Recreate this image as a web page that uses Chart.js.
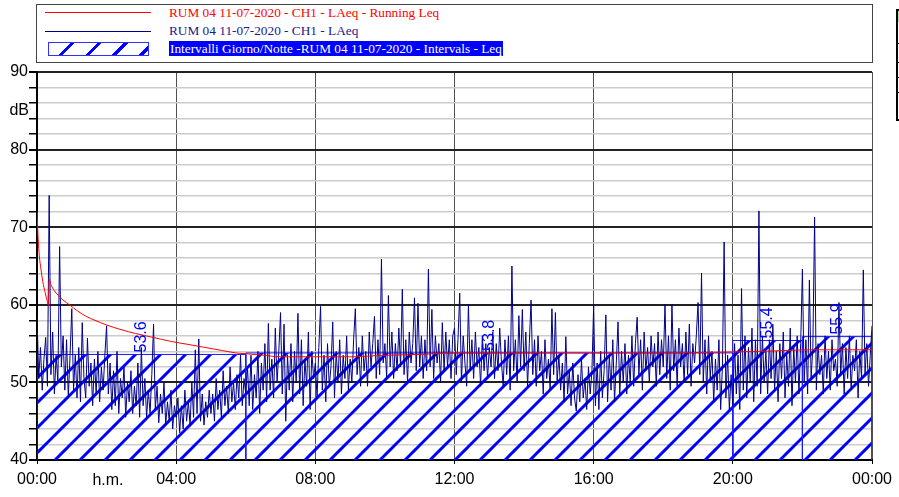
<!DOCTYPE html>
<html>
<head>
<meta charset="utf-8">
<script src="https://cdn.jsdelivr.net/npm/chart.js@4/dist/chart.umd.min.js"></script>
<style>
  body { margin: 0; background: #fff; }
  #wrap { position: relative; width: 899px; height: 497px; overflow: hidden; }
  #chart { position: absolute; left: 0; top: 0; }
  .abs { position: absolute; }
  .lg { position: absolute; font-family: "Liberation Serif", "Times New Roman", serif; font-size: 13.3px; white-space: nowrap; }
</style>
</head>
<body>
<div id="wrap">
  <canvas id="chart" width="899" height="497"></canvas>

  <div class="abs" style="left:36px;top:4px;width:835px;height:57px;border:1px solid #444;background:#fff;"></div>
  <div class="abs" style="left:45px;top:12px;width:106px;height:1px;background:#ff0000;"></div>
  <div class="lg" style="left:169px;top:4px;line-height:17px;color:#ff0000;">RUM 04 11-07-2020 - CH1 - LAeq - Running Leq</div>
  <div class="abs" style="left:45px;top:31px;width:106px;height:1px;background:#000080;"></div>
  <div class="lg" style="left:169px;top:22px;line-height:17px;color:#1a1a8c;">RUM 04 11-07-2020 - CH1 - LAeq</div>
  <div class="abs" style="left:48px;top:42px;width:99px;height:12px;border:1px solid #3030ff;background:repeating-linear-gradient(135deg, transparent 0 15px, #0000ff 15px 18px, transparent 18px 19px);"></div>
  <div class="lg" style="left:169px;top:41px;line-height:15px;height:15px;color:#fff;background:#0000ff;padding:0 1px;">Intervalli Giorno/Notte -RUM 04 11-07-2020 - Intervals - Leq</div>

  <div class="abs" style="left:896px;top:9px;width:10px;height:108px;border:2px solid #000;background:#fff;"></div>
  <div class="abs" style="left:898px;top:11px;width:4px;height:11px;background:#b6e3a0;"></div>
  <div class="abs" style="left:898px;top:43px;width:2px;height:1px;background:#000;"></div>
  <div class="abs" style="left:898px;top:62px;width:2px;height:1px;background:#000;"></div>
  <div class="abs" style="left:898px;top:77px;width:2px;height:1px;background:#000;"></div>
  <div class="abs" style="left:898px;top:92px;width:2px;height:1px;background:#000;"></div>
</div>
<script>
// LAeq, one value every 3 minutes from 00:00 to 24:00 (one row per hour)
const laeqStepMin = 3;
const laeq = [
  58.7, 50.5, 54.5, 49.0, 53.0, 55.8, 49.5, 74.1, 51.0, 56.5, 48.5, 53.5, 50.0, 67.5, 52.0, 56.0, 49.0, 55.5, 48.0, 53.5,
  59.5, 49.0, 53.5, 48.0, 54.5, 47.5, 57.7, 50.5, 48.0, 55.7, 49.5, 52.5, 47.0, 53.0, 48.5, 54.0, 47.5, 52.0, 49.0, 53.5,
  57.3, 48.5, 52.5, 46.5, 51.5, 47.0, 54.0, 46.0, 50.5, 48.0, 52.0, 45.5, 50.0, 47.5, 51.5, 46.0, 49.5, 47.0, 52.5, 45.5,
  54.5, 47.0, 50.5, 45.5, 49.0, 46.0, 51.0, 57.5, 46.5, 49.5, 44.8, 48.5, 46.0, 50.0, 44.5, 47.5, 45.0, 49.0, 44.0, 47.0,
  45.5, 48.0, 43.5, 47.0, 44.0, 49.0, 45.0, 47.5, 44.5, 50.0, 45.5, 54.2, 46.0, 55.6, 45.0, 48.5, 44.5, 47.5, 45.5, 49.0,
  46.0, 48.5, 45.0, 50.5, 46.5, 49.0, 45.5, 51.5, 47.0, 49.5, 46.0, 52.0, 47.5, 50.0, 46.5, 51.0, 48.0, 53.5, 47.0, 50.5,
  48.5, 52.0, 47.0, 53.5, 46.5, 51.0, 48.0, 54.0, 46.0, 52.5, 49.0, 55.0, 47.5, 57.6, 49.0, 53.0, 48.0, 57.0, 50.0, 54.0,
  59.0, 48.5, 57.5, 45.0, 53.5, 49.0, 55.0, 47.5, 54.0, 50.0, 58.9, 48.5, 55.5, 47.0, 53.0, 49.5, 56.5, 46.5, 54.0, 50.5,
  52.5, 48.0, 54.5, 59.8, 49.0, 53.5, 47.5, 55.0, 49.5, 52.0, 57.8, 48.0, 54.0, 50.0, 55.5, 48.5, 53.5, 50.5, 56.0, 49.0,
  53.0, 50.0, 55.5, 59.5, 51.0, 54.5, 49.5, 56.0, 51.5, 54.0, 49.5, 56.5, 52.0, 55.0, 58.5, 50.5, 55.5, 51.0, 65.9, 52.5,
  55.0, 50.5, 61.2, 52.0, 56.5, 50.5, 55.0, 51.5, 57.0, 52.0, 62.0, 51.0, 55.5, 50.0, 56.5, 52.5, 55.0, 60.9, 51.5, 60.2,
  52.0, 56.0, 50.5, 55.5, 51.5, 64.6, 52.0, 59.4, 50.5, 56.0, 52.5, 55.0, 50.0, 57.7, 51.5, 56.5, 52.0, 55.5, 50.5, 56.0,
  57.0, 51.0, 55.5, 61.5, 50.0, 56.0, 52.5, 49.5, 60.1, 51.5, 55.5, 50.5, 56.5, 52.0, 54.5, 49.5, 56.0, 51.5, 55.0, 50.5,
  54.5, 52.0, 56.5, 50.5, 55.0, 51.5, 57.0, 52.5, 49.5, 55.5, 51.0, 56.0, 49.0, 65.0, 51.5, 55.5, 50.0, 58.6, 52.0, 59.4,
  51.5, 56.5, 49.5, 55.0, 60.6, 51.0, 55.5, 49.5, 56.0, 51.5, 54.0, 48.5, 55.5, 50.5, 53.0, 49.0, 59.5, 51.0, 59.0, 50.0,
  53.5, 49.0, 52.5, 47.5, 55.9, 48.5, 51.5, 47.0, 52.5, 48.0, 46.3, 51.0, 47.5, 53.0, 48.0, 50.5, 46.5, 52.0, 48.5, 51.5,
  60.0, 47.0, 52.5, 46.5, 54.0, 48.0, 51.5, 58.7, 47.5, 53.5, 49.0, 55.5, 47.5, 52.5, 57.8, 48.5, 54.0, 50.0, 55.0, 48.5,
  53.5, 50.0, 56.0, 49.5, 55.0, 58.4, 51.0, 55.5, 49.0, 56.5, 51.5, 54.5, 50.0, 56.0, 52.0, 55.0, 49.5, 56.5, 51.0, 55.5,
  52.0, 60.1, 50.5, 56.0, 49.0, 60.1, 51.5, 55.5, 49.5, 57.0, 52.0, 55.0, 50.0, 56.5, 51.0, 57.5, 49.5, 55.0, 52.5, 56.0,
  60.3, 51.0, 64.1, 50.0, 55.5, 48.5, 56.0, 50.5, 54.0, 47.5, 53.0, 49.0, 55.5, 46.5, 52.0, 68.1, 48.0, 53.5, 46.5, 51.0,
  47.0, 55.0, 48.5, 53.5, 46.5, 62.1, 49.0, 56.0, 48.0, 54.5, 50.0, 57.0, 47.5, 55.5, 49.5, 72.1, 48.5, 56.0, 50.0, 54.0,
  48.5, 55.5, 50.5, 57.5, 49.0, 54.0, 47.5, 55.0, 50.5, 56.5, 48.0, 53.5, 49.5, 57.0, 47.0, 54.5, 50.0, 56.0, 48.5, 55.0,
  64.6, 50.0, 55.5, 48.5, 63.2, 50.5, 54.5, 71.3, 49.0, 55.0, 51.0, 53.5, 48.5, 56.0, 50.5, 54.0, 49.0, 55.5, 51.5, 53.0,
  49.5, 60.3, 51.0, 55.0, 48.5, 54.5, 50.5, 56.0, 49.0, 53.5, 51.5, 55.5, 48.0, 54.0, 50.5, 64.5, 51.0, 55.0, 49.5, 53.5,
  57.3
];

// Running Leq read at chosen minutes
const runLeqMin = [0, 2, 4, 7, 10, 14, 18, 20, 21, 24, 30, 38, 45, 56, 70, 85, 100, 120, 145, 170, 200, 230, 260, 290, 320, 343, 360, 390, 420, 480, 540, 600, 660, 720, 840, 960, 1080, 1180, 1246, 1342, 1440];
const runLeqDb = [72.0, 68.5, 66.3, 64.5, 63.0, 61.6, 60.4, 59.9, 63.3, 62.6, 61.8, 61.1, 60.6, 60.0, 59.2, 58.5, 58.0, 57.4, 56.8, 56.3, 55.8, 55.3, 54.9, 54.5, 54.1, 53.8, 53.7, 53.5, 53.3, 53.3, 53.3, 53.5, 53.6, 53.8, 53.8, 53.8, 53.8, 53.9, 54.0, 54.2, 54.2];

// Day / night intervals
const intervalStart = [0, 360, 1200, 1320];
const intervalEnd = [360, 1200, 1320, 1440];
const intervalLeq = [53.6, 53.8, 55.4, 55.9];
const intervalLabel = ["53.6", "53.8", "55.4", "55.9"];

const xTickLabels = ["00:00", "04:00", "08:00", "12:00", "16:00", "20:00", "00:00"];

const SANS = '"Liberation Sans", Arial, sans-serif';

function makeHatch() {
  const c = document.createElement("canvas");
  c.width = 25;
  c.height = 25;
  const g = c.getContext("2d");
  g.strokeStyle = "#0000ff";
  g.lineWidth = 3;
  for (const k of [15, 40]) {
    g.beginPath();
    g.moveTo(k + 10, -10);
    g.lineTo(k - 35, 35);
    g.stroke();
  }
  return g.createPattern(c, "repeat");
}
const hatch = makeHatch();

const intervalSets = intervalStart.map((s, i) => ({
  data: [
    { x: s, y: 40 },
    { x: s, y: intervalLeq[i] },
    { x: intervalEnd[i], y: intervalLeq[i] },
    { x: intervalEnd[i], y: 40 },
  ],
  borderColor: "#1a1aff",
  borderWidth: 1,
  backgroundColor: hatch,
  fill: "start",
  pointRadius: 0,
  tension: 0,
}));

const extraText = {
  id: "extraText",
  afterDraw(chart) {
    const { ctx, scales } = chart;
    ctx.save();
    ctx.fillStyle = "#000";
    ctx.font = "16px " + SANS;
    ctx.textAlign = "right";
    ctx.textBaseline = "middle";
    ctx.fillText("dB", 29, 111);
    ctx.textAlign = "center";
    ctx.fillText("h.m.", 108, 481);

    ctx.fillStyle = "#0000ff";
    ctx.font = "16px " + SANS;
    ctx.textAlign = "left";
    intervalLabel.forEach((t, i) => {
      const x = scales.x.getPixelForValue((intervalStart[i] + intervalEnd[i]) / 2);
      const y = scales.y.getPixelForValue(intervalLeq[i]);
      ctx.save();
      ctx.translate(x, y - 2);
      ctx.rotate(-Math.PI / 2);
      ctx.fillText(t, 0, 0);
      ctx.restore();
    });
    ctx.restore();
  },
};

new Chart(document.getElementById("chart"), {
  type: "line",
  data: {
    datasets: [
      {
        data: runLeqMin.map((m, i) => ({ x: m, y: runLeqDb[i] })),
        borderColor: "#ff0000",
        borderWidth: 1,
        pointRadius: 0,
        cubicInterpolationMode: "monotone",
        fill: false,
      },
      {
        data: laeq.map((v, i) => ({ x: i * laeqStepMin, y: v })),
        borderColor: "#00008b",
        borderWidth: 1,
        pointRadius: 0,
        tension: 0,
        fill: false,
      },
      ...intervalSets,
    ],
  },
  options: {
    responsive: false,
    animation: false,
    devicePixelRatio: 1,
    layout: { padding: { top: 72, right: 27, left: 0, bottom: 0 } },
    plugins: { legend: { display: false }, tooltip: { enabled: false } },
    scales: {
      x: {
        type: "linear",
        min: 0,
        max: 1440,
        afterFit: (s) => { s.height = 37; },
        afterBuildTicks: (s) => {
          s.ticks = xTickLabels.map((_, i) => ({ value: i * 240 }));
        },
        ticks: {
          autoSkip: false,
          maxRotation: 0,
          padding: 6,
          color: "#000",
          font: { family: SANS, size: 16 },
          callback: (v, i) => xTickLabels[i],
        },
        grid: { color: "#505050", lineWidth: 1, tickLength: 4, tickColor: "#000" },
        border: { color: "#000", width: 2 },
      },
      y: {
        min: 40,
        max: 90,
        afterFit: (s) => { s.width = 37; },
        ticks: {
          stepSize: 2,
          autoSkip: false,
          padding: 1,
          color: "#000",
          font: { family: SANS, size: 16 },
          callback: (v) => (v % 10 === 0 ? String(v) : ""),
        },
        grid: {
          color: (c) => (c.tick && c.tick.value % 10 === 0 ? "#222" : "#cccccc"),
          lineWidth: (c) => (c.tick && c.tick.value % 10 === 0 ? 2 : 1.5),
          tickLength: 8,
          tickColor: "#000",
        },
        border: { color: "#000", width: 2 },
      },
    },
  },
  plugins: [extraText],
});
</script>
</body>
</html>
